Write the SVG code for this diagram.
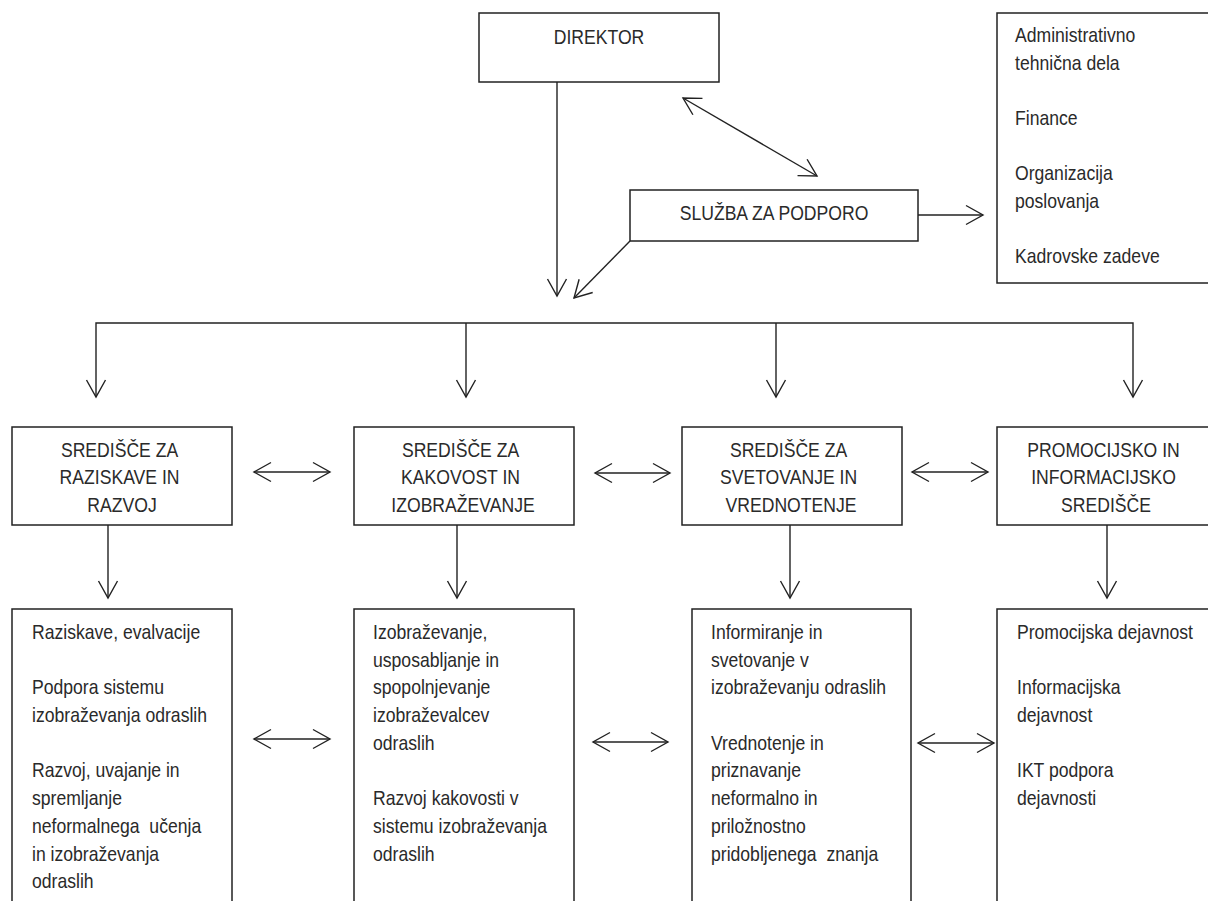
<svg xmlns="http://www.w3.org/2000/svg" width="1208" height="901" viewBox="0 0 1208 901">
<style>
.box{fill:#fff;stroke:#222;stroke-width:1.5}
.ln{fill:none;stroke:#222;stroke-width:1.4}
.t{font-family:"Liberation Sans",Arial,sans-serif;font-size:20px;fill:#2a2a2a}
.c{text-anchor:middle}
</style>
<defs>
<marker id="ah" viewBox="-20 -12 22 24" markerWidth="22" markerHeight="24" refX="0" refY="0" orient="auto-start-reverse" markerUnits="userSpaceOnUse">
<path d="M-17,-9.5 L0,0 L-17,9.5" fill="none" stroke="#222" stroke-width="1.4"/>
</marker>
</defs>
<rect width="1208" height="901" fill="#fff"/>

<g id="connectors">
<path class="ln" d="M557,82 L557,296" marker-end="url(#ah)"/>
<path class="ln" d="M683,98 L817,176" marker-start="url(#ah)" marker-end="url(#ah)"/>
<path class="ln" d="M918,215 L983,215" marker-end="url(#ah)"/>
<path class="ln" d="M630,241 L574,298" marker-end="url(#ah)"/>
<path class="ln" d="M96,397 L96,323 L1133,323 L1133,397" marker-start="url(#ah)" marker-end="url(#ah)"/>
<path class="ln" d="M466,323 L466,397" marker-end="url(#ah)"/>
<path class="ln" d="M776,323 L776,397" marker-end="url(#ah)"/>
<path class="ln" d="M108,525 L108,598" marker-end="url(#ah)"/>
<path class="ln" d="M457,525 L457,598" marker-end="url(#ah)"/>
<path class="ln" d="M790,525 L790,598" marker-end="url(#ah)"/>
<path class="ln" d="M1107,525 L1107,598" marker-end="url(#ah)"/>
<path class="ln" d="M254,472 L330,472" marker-start="url(#ah)" marker-end="url(#ah)"/>
<path class="ln" d="M595,473 L670,473" marker-start="url(#ah)" marker-end="url(#ah)"/>
<path class="ln" d="M912,472 L988,472" marker-start="url(#ah)" marker-end="url(#ah)"/>
<path class="ln" d="M254,739 L330,739" marker-start="url(#ah)" marker-end="url(#ah)"/>
<path class="ln" d="M593,742 L668,742" marker-start="url(#ah)" marker-end="url(#ah)"/>
<path class="ln" d="M918,743 L994,743" marker-start="url(#ah)" marker-end="url(#ah)"/>
</g>

<g id="direktor">
<rect class="box" x="479" y="13" width="240" height="69"/>
<text class="t c" transform="translate(599,0) scale(0.88,1)"><tspan x="0" y="44">DIREKTOR</tspan></text>
</g>

<g id="sluzba">
<rect class="box" x="630" y="190" width="288" height="51"/>
<text class="t c" transform="translate(774,0) scale(0.88,1)"><tspan x="0" y="220">SLUŽBA ZA PODPORO</tspan></text>
</g>

<g id="podpora-seznam">
<rect class="box" x="997" y="13" width="230" height="270"/>
<text class="t" transform="translate(1015,0) scale(0.88,1)">
<tspan x="0" y="42">Administrativno</tspan>
<tspan x="0" y="69.7">tehnična dela</tspan>
<tspan x="0" y="125">Finance</tspan>
<tspan x="0" y="180.5">Organizacija</tspan>
<tspan x="0" y="208">poslovanja</tspan>
<tspan x="0" y="263.5">Kadrovske zadeve</tspan>
</text>
</g>

<g id="sredisce-raziskave">
<rect class="box" x="12" y="427" width="220" height="98"/>
<text class="t c" transform="translate(122,0) scale(0.88,1)">
<tspan x="0" y="457">SREDIŠČE ZA</tspan>
<tspan x="0" y="484.5">RAZISKAVE IN</tspan>
<tspan x="0" y="512">RAZVOJ</tspan>
</text>
</g>

<g id="sredisce-kakovost">
<rect class="box" x="354" y="427" width="220" height="98"/>
<text class="t c" transform="translate(463,0) scale(0.88,1)">
<tspan x="0" y="457">SREDIŠČE ZA</tspan>
<tspan x="0" y="484.5">KAKOVOST IN</tspan>
<tspan x="0" y="512">IZOBRAŽEVANJE</tspan>
</text>
</g>

<g id="sredisce-svetovanje">
<rect class="box" x="682" y="427" width="220" height="98"/>
<text class="t c" transform="translate(791,0) scale(0.88,1)">
<tspan x="0" y="457">SREDIŠČE ZA</tspan>
<tspan x="0" y="484.5">SVETOVANJE IN</tspan>
<tspan x="0" y="512">VREDNOTENJE</tspan>
</text>
</g>

<g id="promocijsko-sredisce">
<rect class="box" x="997" y="427" width="230" height="98"/>
<text class="t c" transform="translate(1106,0) scale(0.88,1)">
<tspan x="0" y="457">PROMOCIJSKO IN</tspan>
<tspan x="0" y="484.5">INFORMACIJSKO</tspan>
<tspan x="0" y="512">SREDIŠČE</tspan>
</text>
</g>

<g id="naloge-raziskave">
<rect class="box" x="12" y="609" width="220" height="310"/>
<text class="t" transform="translate(32,0) scale(0.88,1)">
<tspan x="0" y="639">Raziskave, evalvacije</tspan>
<tspan x="0" y="694.4">Podpora sistemu</tspan>
<tspan x="0" y="722.1">izobraževanja odraslih</tspan>
<tspan x="0" y="777.5">Razvoj, uvajanje in</tspan>
<tspan x="0" y="805.2">spremljanje</tspan>
<tspan x="0" y="832.9">neformalnega&#160; učenja</tspan>
<tspan x="0" y="860.6">in izobraževanja</tspan>
<tspan x="0" y="888.3">odraslih</tspan>
</text>
</g>

<g id="naloge-kakovost">
<rect class="box" x="354" y="609" width="220" height="310"/>
<text class="t" transform="translate(373,0) scale(0.88,1)">
<tspan x="0" y="639">Izobraževanje,</tspan>
<tspan x="0" y="666.7">usposabljanje in</tspan>
<tspan x="0" y="694.4">spopolnjevanje</tspan>
<tspan x="0" y="722.1">izobraževalcev</tspan>
<tspan x="0" y="749.8">odraslih</tspan>
<tspan x="0" y="805.2">Razvoj kakovosti v</tspan>
<tspan x="0" y="832.9">sistemu izobraževanja</tspan>
<tspan x="0" y="860.6">odraslih</tspan>
</text>
</g>

<g id="naloge-svetovanje">
<rect class="box" x="692" y="609" width="219" height="310"/>
<text class="t" transform="translate(711,0) scale(0.88,1)">
<tspan x="0" y="639">Informiranje in</tspan>
<tspan x="0" y="666.7">svetovanje v</tspan>
<tspan x="0" y="694.4">izobraževanju odraslih</tspan>
<tspan x="0" y="749.8">Vrednotenje in</tspan>
<tspan x="0" y="777.5">priznavanje</tspan>
<tspan x="0" y="805.2">neformalno in</tspan>
<tspan x="0" y="832.9">priložnostno</tspan>
<tspan x="0" y="860.6">pridobljenega&#160; znanja</tspan>
</text>
</g>

<g id="naloge-promocija">
<rect class="box" x="997" y="609" width="230" height="310"/>
<text class="t" transform="translate(1017,0) scale(0.88,1)">
<tspan x="0" y="639">Promocijska dejavnost</tspan>
<tspan x="0" y="694.4">Informacijska</tspan>
<tspan x="0" y="722.1">dejavnost</tspan>
<tspan x="0" y="777.5">IKT podpora</tspan>
<tspan x="0" y="805.2">dejavnosti</tspan>
</text>
</g>
</svg>
